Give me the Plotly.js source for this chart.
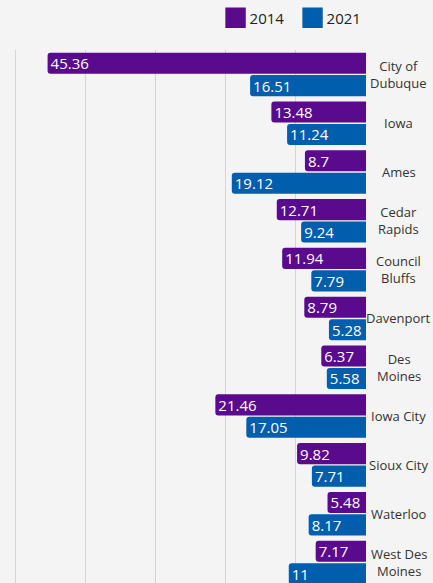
<!DOCTYPE html>
<html>
<head>
<meta charset="utf-8">
<script src="https://cdn.plot.ly/plotly-3.0.1.min.js"></script>
<style>
html,body{margin:0;padding:0;background:#f4f4f4;overflow:hidden;}
#chart{width:433px;height:583px;}
</style>
</head>
<body>
<div id="chart"></div>
<script>
const categories = ["City of Dubuque","Iowa","Ames","Cedar Rapids","Council Bluffs","Davenport","Des Moines","Iowa City","Sioux City","Waterloo","West Des Moines"];
const categoryLabels = ["City of<br>Dubuque","Iowa","Ames","Cedar<br>Rapids","Council<br>Bluffs","Davenport","Des<br>Moines","Iowa City","Sioux City","Waterloo","West Des<br>Moines"];
const values2014 = [45.36,13.48,8.7,12.71,11.94,8.79,6.37,21.46,9.82,5.48,7.17];
const values2021 = [16.51,11.24,19.12,9.24,7.79,5.28,5.58,17.05,7.71,8.17,11];
const seriesNames = ["2014","2021"];
const colors = ["#5a0a8c","#005eac"];

const font = "'Open Sans', 'Noto Sans', sans-serif";

function barTrace(name, vals, color){
  return {
    type:'bar', orientation:'h', name:name,
    y:categories, x:vals,
    text: vals.map(v => String(v)),
    textposition:'inside', insidetextanchor:'end',
    constraintext:'none', textangle:0,
    textfont:{family:font, size:15, color:'#ffffff'},
    marker:{color:color, cornerradius:3},
    hoverinfo:'none', cliponaxis:true
  };
}

const data = [barTrace(seriesNames[0], values2014, colors[0]), barTrace(seriesNames[1], values2021, colors[1])];

const annotations = categories.map((c,i) => ({
  xref:'paper', yref:'y', x:1.092, y:c, text:categoryLabels[i],
  showarrow:false, xanchor:'center', yanchor:'middle', align:'center',
  font:{family:font, size:13, color:'#333333'}
}));

const layout = {
  width:433, height:583,
  margin:{l:8, r:67, t:50, b:0, pad:0},
  paper_bgcolor:'#f4f4f4', plot_bgcolor:'#f4f4f4',
  barmode:'group', bargap:0.08, bargroupgap:0.06,
  xaxis:{range:[51,0], dtick:10, tick0:0, showgrid:true, gridcolor:'#d4d4d4', gridwidth:1,
         zeroline:false, showticklabels:false, showline:false, fixedrange:true},
  yaxis:{type:'category', range:[10.42,-0.5], showgrid:false, showticklabels:false,
         zeroline:false, showline:false, fixedrange:true},
  showlegend:true,
  legend:{orientation:'h', x:0.563, xanchor:'left', y:1.06, yanchor:'middle',
          font:{family:font, size:15, color:'#222222'}, bgcolor:'rgba(0,0,0,0)',
          traceorder:'normal', itemwidth:30, entrywidth:32},
  annotations:annotations,
  font:{family:font}
};

Plotly.newPlot('chart', data, layout, {displayModeBar:false, staticPlot:true}).then(function(){
  document.querySelectorAll('.legendpoints path').forEach(function(p){
    var t = p.getAttribute('transform') || '';
    p.setAttribute('d', 'M6,6H-6V-6H6Z');
    p.setAttribute('transform', 'translate(6,0) ' + t + ' scale(1.7)');
  });
});
</script>
</body>
</html>
